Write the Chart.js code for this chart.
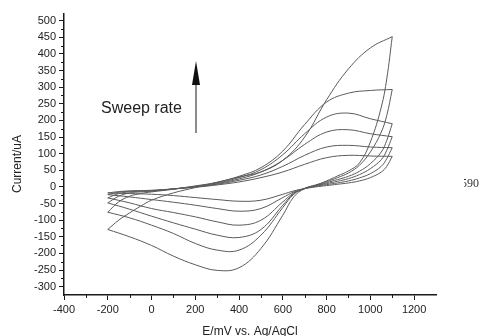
<!DOCTYPE html>
<html><head><meta charset="utf-8">
<script src="https://cdn.jsdelivr.net/npm/chart.js@4/dist/chart.umd.min.js"></script>
<style>html,body{margin:0;padding:0;background:#fff;}canvas{display:block;}</style>
</head><body>
<canvas id="c" width="480" height="336"></canvas>
<script>
// Potential grids (mV) for forward (anodic) and reverse (cathodic) sweeps
const E_FWD = [-200,-150,-100,-50,0,100,200,300,400,500,600,700,800,900,1000,1100];
const E_REV = [1100,1075,1050,1000,950,900,850,800,750,700,650,600,500,400,300,200,100,0,-100,-200];

// Current (uA), six sweep rates, slowest to fastest
const fwd1 = [-18,-14,-12,-11,-10,-6,-1,6,15,28,45,68,88,95,93,92];
const fwd2 = [-23,-16,-13,-12,-11,-6,0,8,20,36,62,95,120,125,120,118];
const fwd3 = [-33,-20,-15,-13,-12,-6,1,10,24,45,80,128,165,172,160,151];
const fwd4 = [-48,-28,-18,-15,-13,-6,2,12,28,52,97,160,210,222,205,190];
const fwd5 = [-76,-45,-28,-20,-15,-7,3,14,32,58,108,188,255,282,290,293];
const fwd6 = [-128,-100,-78,-58,-40,-18,-2,14,30,45,80,150,262,355,418,452];

const rev1 = [92,62,45,28,18,12,8,4,0,-5,-12,-22,-40,-43,-38,-32,-26,-22,-20,-18];
const rev2 = [118,85,62,40,27,18,12,7,2,-5,-15,-32,-65,-73,-65,-55,-46,-38,-30,-23];
const rev3 = [151,110,82,55,37,25,17,10,3,-5,-18,-45,-100,-115,-105,-90,-77,-65,-48,-33];
const rev4 = [190,140,105,70,47,32,22,13,4,-5,-20,-55,-128,-152,-145,-127,-108,-88,-67,-48];
const rev5 = [293,215,165,105,65,42,28,16,6,-4,-22,-62,-145,-190,-190,-170,-140,-115,-93,-76];
const rev6 = [452,325,240,135,72,48,33,18,5,-5,-30,-85,-185,-243,-251,-234,-208,-176,-150,-128];

const X_MIN = -400, X_MAX = 1300, Y_MIN = -325, Y_MAX = 520;
const X_TITLE = 'E/mV vs. Ag/AgCl';
const Y_TITLE = 'Current/uA';
const NOTE = 'Sweep rate';
const STRAY = '590';

const LINE = '#5a5a5a';
function pts(xs, ys){ return xs.map((x,i)=>({x:x, y:ys[i]})); }
const branches = [
  [E_FWD,fwd1],[E_REV,rev1],[E_FWD,fwd2],[E_REV,rev2],[E_FWD,fwd3],[E_REV,rev3],
  [E_FWD,fwd4],[E_REV,rev4],[E_FWD,fwd5],[E_REV,rev5],[E_FWD,fwd6],[E_REV,rev6]
];
const datasets = branches.map(b=>({
  data: pts(b[0], b[1]), showLine:true, borderColor:LINE, borderWidth:1,
  pointRadius:0, tension:0.4, fill:false
}));

const AXIS = '#1a1a1a';
const extras = {
  id:'extras',
  afterDraw(chart){
    const ctx = chart.ctx, xs = chart.scales.x, ys = chart.scales.y;
    ctx.save();
    ctx.strokeStyle = AXIS; ctx.lineWidth = 1;
    // minor ticks
    ctx.beginPath();
    xs.ticks.forEach(t=>{ if (t.value % 200 !== 0 && t.value > X_MIN && t.value < X_MAX) {
      const px = Math.round(xs.getPixelForValue(t.value))+0.5;
      ctx.moveTo(px, ys.bottom); ctx.lineTo(px, ys.bottom+3); } });
    ys.ticks.forEach(t=>{ if (t.value % 50 !== 0 && t.value > Y_MIN && t.value < Y_MAX) {
      const py = Math.round(ys.getPixelForValue(t.value))+0.5;
      ctx.moveTo(xs.left, py); ctx.lineTo(xs.left-3, py); } });
    ctx.stroke();
    // titles
    ctx.fillStyle = '#222';
    ctx.font = '12px "Liberation Sans", Arial, sans-serif';
    ctx.textAlign = 'center'; ctx.textBaseline = 'alphabetic';
    ctx.fillText(X_TITLE, 250, 335);
    ctx.save(); ctx.translate(21, 164); ctx.rotate(-Math.PI/2);
    ctx.fillText(Y_TITLE, 0, 0); ctx.restore();
    // annotation
    ctx.font = '16px "Liberation Sans", Arial, sans-serif';
    ctx.textAlign = 'left';
    ctx.fillText(NOTE, 101, 113);
    ctx.beginPath(); ctx.moveTo(196, 133); ctx.lineTo(196, 80); ctx.stroke();
    ctx.beginPath(); ctx.moveTo(196, 61); ctx.lineTo(200, 85); ctx.lineTo(192, 85); ctx.closePath();
    ctx.fillStyle = '#111'; ctx.fill();
    // stray clipped label at right
    ctx.save();
    ctx.beginPath(); ctx.rect(464, 170, 20, 25); ctx.clip();
    ctx.fillStyle = '#333';
    ctx.font = '12px "Liberation Serif", "DejaVu Serif", serif';
    ctx.textAlign = 'right';
    ctx.fillText(STRAY, 479, 187);
    ctx.restore();
    ctx.restore();
  }
};

new Chart(document.getElementById('c'), {
  type:'scatter',
  data:{ datasets },
  options:{
    responsive:false, animation:false,
    layout:{ padding:{ top:14, right:44, left:0, bottom:0 } },
    plugins:{ legend:{display:false}, tooltip:{enabled:false} },
    scales:{
      x:{
        type:'linear', min:X_MIN, max:X_MAX,
        afterFit(s){ s.height = 41; },
        border:{ display:true, color:AXIS, width:1.5 },
        grid:{ drawOnChartArea:false, drawTicks:true, tickLength:5,
               tickColor: c => (c.tick && c.tick.value % 200 === 0) ? AXIS : 'rgba(0,0,0,0)' },
        ticks:{ stepSize:100, autoSkip:false, maxRotation:0, padding:3, color:'#222', includeBounds:false,
                font:{ family:'"Liberation Sans", Arial, sans-serif', size:11 },
                callback: v => (v % 200 === 0 && v <= 1200) ? String(v) : '' }
      },
      y:{
        type:'linear', min:Y_MIN, max:Y_MAX,
        afterFit(s){ s.width = 64; },
        border:{ display:true, color:AXIS, width:1.5 },
        grid:{ drawOnChartArea:false, drawTicks:true, tickLength:5,
               tickColor: c => (c.tick && c.tick.value % 50 === 0) ? AXIS : 'rgba(0,0,0,0)' },
        ticks:{ stepSize:25, autoSkip:false, padding:3, color:'#222', includeBounds:false,
                font:{ family:'"Liberation Sans", Arial, sans-serif', size:11 },
                callback: v => (v % 50 === 0 && v >= -300 && v <= 500) ? String(v) : '' }
      }
    }
  },
  plugins:[extras]
});
</script>
</body></html>
